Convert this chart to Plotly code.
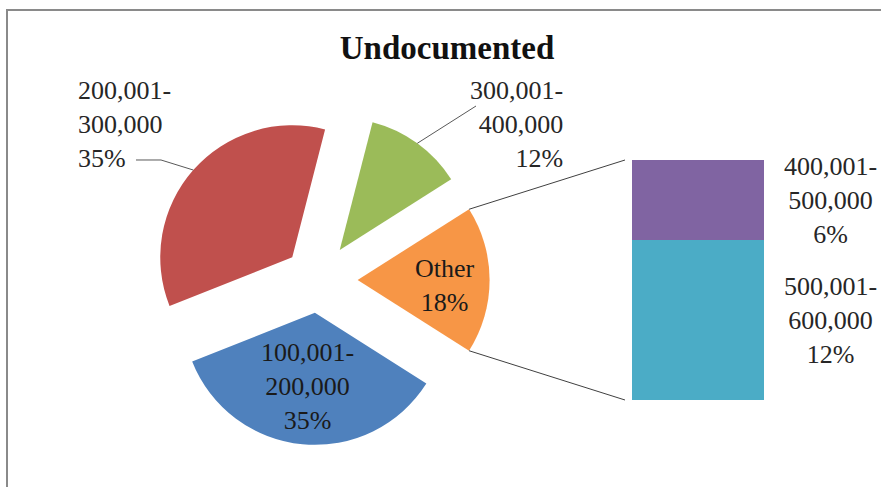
import math
import plotly.graph_objects as go

# ---------------- data ----------------
pie_labels = ["Other", "300,001-400,000", "200,001-300,000", "100,001-200,000"]
bar_labels = ["500,001-600,000", "400,001-500,000"]
bar_values = [12, 6]
pie_main_values = [12, 35, 35]          # 300-400k, 200-300k, 100-200k
pie_values = [sum(bar_values)] + pie_main_values
pie_colors = ["#F79646", "#9BBB59", "#C0504D", "#4F81BD"]
bar_colors = ["#4BACC6", "#8064A2"]
pulls = [0.30, 0.28, 0.26, 0.25]
title = "Undocumented"

# ---------------- geometry ----------------
W, H = 881, 487
CX, CY, R = 318, 280, 132          # pie centre / radius in pixels
maxp = max(pulls)
half = R * (1 + maxp)
pie_dom_x = [(CX - half) / W, (CX + half) / W]
pie_dom_y = [1 - (CY + half) / H, 1 - (CY - half) / H]

BX0, BX1, BY0, BY1 = 632, 764, 160, 400   # bar box in pixels (top, bottom)
BAR_LABEL_X = 830

def px2paper(x, y):
    return x / W, 1 - y / H

total = sum(pie_values)
start = -pie_values[0] / total * 180.0      # degrees, math convention
mids, edges = [], [start]
a = start
for v in pie_values:
    span = v / total * 360.0
    mids.append(a + span / 2)
    a += span
    edges.append(a)

def vertex(i):
    m = math.radians(mids[i])
    return CX + pulls[i] * R * math.cos(m), CY - pulls[i] * R * math.sin(m)

def along(i, frac, ang=None):
    vx, vy = vertex(i)
    m = math.radians(mids[i] if ang is None else ang)
    return vx + frac * R * math.cos(m), vy - frac * R * math.sin(m)

def fmt(lbl, v):
    return lbl.replace("-", "-<br>") + "<br>" + f"{v / total * 100:.0f}%"

FONT = "Liberation Serif"
TXT = "#262626"
FS = 26

fig = go.Figure()
fig.add_trace(go.Pie(
    labels=pie_labels, values=pie_values, sort=False,
    direction="counterclockwise", rotation=90 - edges[1],
    pull=pulls, textinfo="none", hoverinfo="label+percent",
    marker=dict(colors=pie_colors, line=dict(width=0)),
    domain=dict(x=pie_dom_x, y=pie_dom_y), showlegend=False,
))

for lbl, v, c in zip(bar_labels, bar_values, bar_colors):
    fig.add_trace(go.Bar(
        x=[0], y=[v], width=1, marker=dict(color=c, line=dict(width=0)),
        xaxis="x2", yaxis="y2", showlegend=False, name=lbl,
    ))

annotations = []
# bar segment labels (y in bar-axis units, x in paper)
cum = 0
for lbl, v in zip(bar_labels, bar_values):
    annotations.append(dict(
        x=BAR_LABEL_X / W, y=cum + v / 2, xref="paper", yref="y2", showarrow=False,
        xanchor="center", yanchor="middle", align="center",
        text=fmt(lbl, v), font=dict(family=FONT, size=FS, color=TXT),
    ))
    cum += v

# inside labels: Other and 100,001-200,000
for i, frac, dy in [(0, 0.66, 5), (3, 0.56, 0)]:
    x, y = along(i, frac)
    xp, yp = px2paper(x, y + dy)
    annotations.append(dict(
        x=xp, y=yp, xref="paper", yref="paper", showarrow=False,
        xanchor="center", yanchor="middle", align="center",
        text=fmt(pie_labels[i], pie_values[i]),
        font=dict(family=FONT, size=FS, color="#1a1a1a"),
    ))

shapes = []
# outside labels with elbow leader lines
outside = [
    # slice, label centre, align, leader path points (label side first)
    (2, (124, 124), "left", [(136, 160), (161, 160)]),
    (1, (516, 124), "right", [(476, 106)]),
]
for i, (lx, ly), al, pts in outside:
    xp, yp = px2paper(lx, ly)
    annotations.append(dict(
        x=xp, y=yp, xref="paper", yref="paper", showarrow=False,
        xanchor="center", yanchor="middle", align=al,
        text=fmt(pie_labels[i], pie_values[i]),
        font=dict(family=FONT, size=FS, color=TXT),
    ))
    px, py = along(i, 1.0)
    path_pts = pts + [(px, py)]
    path = "M " + " L ".join(f"{x / W:.5f},{1 - y / H:.5f}" for x, y in path_pts)
    shapes.append(dict(type="path", xref="paper", yref="paper", path=path,
                       line=dict(color="#595959", width=1)))

# connector lines from the "Other" slice to the bar
for edge_ang, by in [(edges[1], BY0), (edges[0], BY1)]:
    x, y = along(0, 1.0, edge_ang)
    x0, y0 = px2paper(x, y)
    x1, y1 = px2paper(BX0 - 7, by)
    shapes.append(dict(type="line", xref="paper", yref="paper",
                       x0=x0, y0=y0, x1=x1, y1=y1,
                       line=dict(color="#404040", width=1)))
# chart frame
shapes.append(dict(type="rect", xref="paper", yref="paper",
                   x0=7 / W, x1=1.02, y0=-0.02, y1=1 - 10 / H,
                   line=dict(color="#8a8a8a", width=2), layer="below"))

fig.update_layout(
    width=W, height=H, margin=dict(l=0, r=0, t=0, b=0),
    paper_bgcolor="white", plot_bgcolor="white",
    title=dict(text=f"<b>{title}</b>", x=447 / W, y=1 - 47 / H,
               xanchor="center", yanchor="middle",
               font=dict(family=FONT, size=33, color="#111111")),
    xaxis2=dict(domain=[BX0 / W, BX1 / W], range=[-0.5, 0.5], visible=False,
                fixedrange=True),
    yaxis2=dict(domain=[1 - BY1 / H, 1 - BY0 / H], range=[0, sum(bar_values)],
                visible=False, fixedrange=True, anchor="x2"),
    xaxis=dict(visible=False), yaxis=dict(visible=False),
    barmode="stack", bargap=0,
    annotations=annotations, shapes=shapes,
)

fig.write_html("out.html", config={"displayModeBar": False},
               post_script="document.body.style.margin='0';document.body.style.padding='0';")
